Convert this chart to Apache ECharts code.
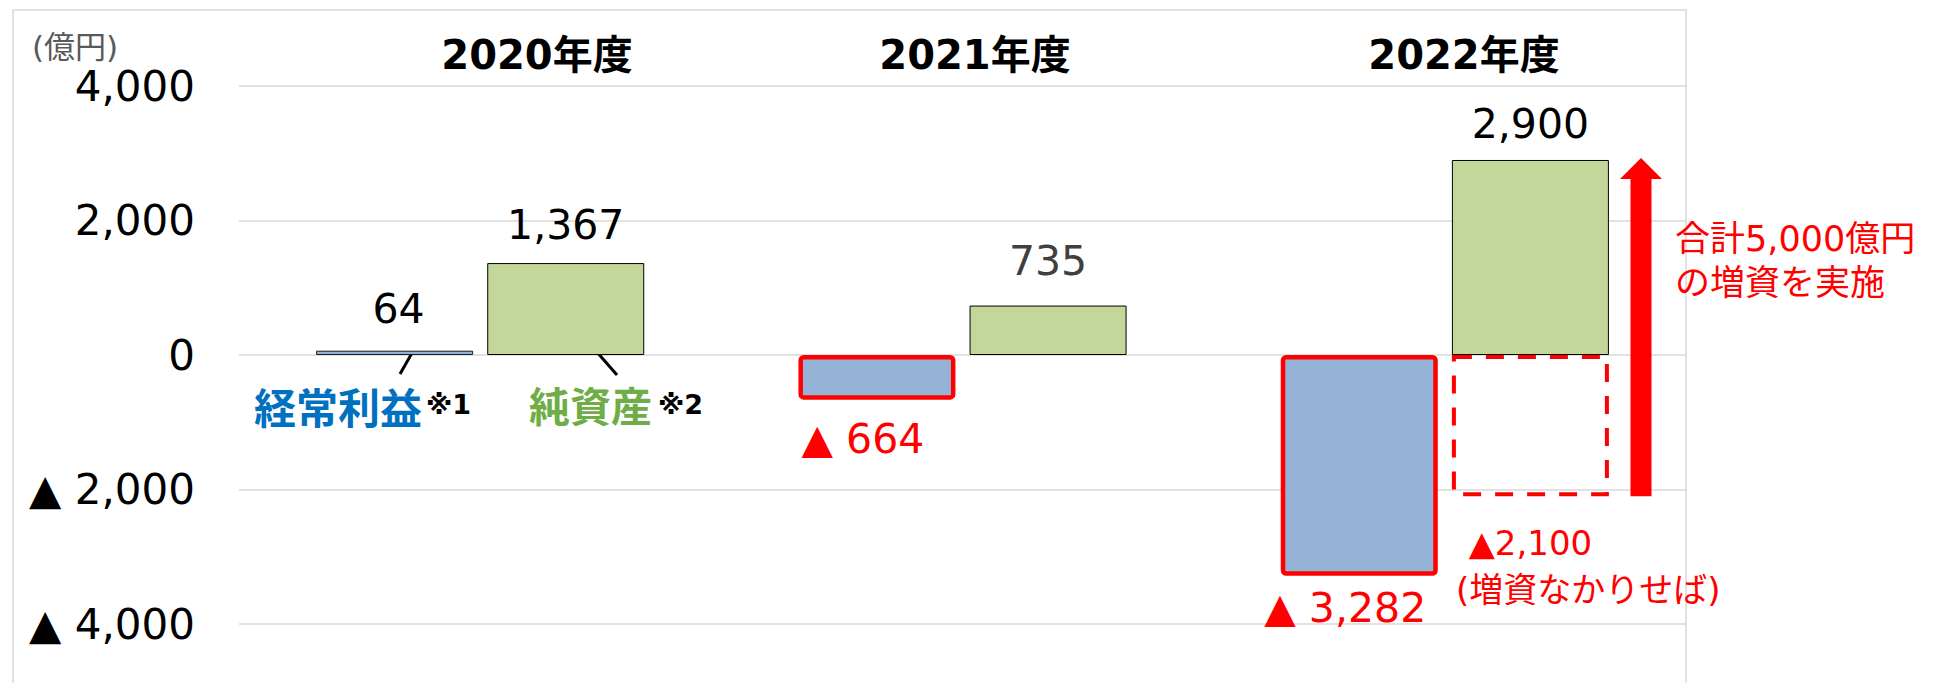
<!DOCTYPE html>
<html>
<head>
<meta charset="utf-8">
<script src="https://cdn.jsdelivr.net/npm/echarts@6/dist/echarts.min.js"></script>
<style>
html, body { margin: 0; padding: 0; background: #fff; }
#chart { width: 1933px; height: 683px; }
</style>
</head>
<body>
<div id="chart"></div>
<script>
// 値（億円）
var categories = ['2020年度', '2021年度', '2022年度'];
var ordinaryProfit = [64, -664, -3282];      // 経常利益
var netAssets = [1367, 735, 2900];           // 純資産
var withoutIncrease = [null, null, -2100];   // 増資なかりせば
var yMin = -4000, yMax = 4000, yStep = 2000;

var FONT = "DejaVu Sans, Noto Sans CJK JP, sans-serif";
var RED = '#FF0000';

function fmt(v) {
    return String(Math.abs(v)).replace(/\B(?=(\d{3})+(?!\d))/g, ',');
}

var chart = echarts.init(document.getElementById('chart'), null, { renderer: 'svg' });

var profitData = ordinaryProfit.map(function (v) {
    var neg = v < 0;
    return {
        value: v,
        itemStyle: neg ? { borderColor: RED, borderWidth: 4.5, borderRadius: 3 }
                       : { borderColor: '#1a1a1a', borderWidth: 1 },
        label: { color: neg ? RED : '#000', distance: neg ? (v < -2000 ? 12 : 19) : 21, offset: neg ? [-14, 0] : [4, 0] }
    };
});
var assetColors = ['#000', '#404040', '#000'];
var assetGap = [18, 24, 15];
var assetData = netAssets.map(function (v, i) {
    return { value: v, label: { color: assetColors[i], distance: assetGap[i] } };
});

chart.setOption({
    animation: false,
    grid: { left: 239, right: 247, top: 86, bottom: 59, containLabel: false },
    xAxis: { type: 'category', data: categories, show: false },
    yAxis: {
        type: 'value', min: yMin, max: yMax, interval: yStep,
        axisLine: { show: false }, axisTick: { show: false },
        splitLine: { lineStyle: { color: '#D9D9D9', width: 1.5 } },
        axisLabel: {
            fontSize: 42, color: '#000', fontFamily: FONT, margin: 44,
            formatter: function (v) { return v < 0 ? '▲ ' + fmt(v) : fmt(v); }
        }
    },
    series: [
        {
            name: '経常利益', type: 'bar', barWidth: 157, barGap: '9%',
            data: profitData,
            itemStyle: { color: '#95B3D7' },
            label: {
                show: true, position: 'outside', fontSize: 41, fontFamily: FONT,
                formatter: function (p) { return p.value < 0 ? '▲ ' + fmt(p.value) : fmt(p.value); }
            }
        },
        {
            name: '純資産', type: 'bar', stack: 'na', barWidth: 157, barGap: '9%',
            data: assetData,
            itemStyle: { color: '#C4D79B', borderColor: '#000', borderWidth: 1 },
            label: {
                show: true, position: 'outside', fontSize: 41, fontFamily: FONT,
                formatter: function (p) { return fmt(p.value); }
            }
        },
        {
            name: '増資なかりせば', type: 'bar', stack: 'na', barWidth: 157, barGap: '9%',
            data: withoutIncrease.map(function (v) { return v == null ? '-' : v; }),
            itemStyle: { color: 'rgba(0,0,0,0)', borderColor: RED, borderWidth: 4, borderType: [18, 14] },
            label: {
                show: true, position: 'outside', distance: 30, fontSize: 34, color: RED, fontFamily: FONT,
                formatter: function (p) { return '▲' + fmt(p.value); }
            }
        }
    ]
});

// 注記・矢印
var arrowTop = chart.convertToPixel({ gridIndex: 0 }, [2, netAssets[2]])[1] - 2;
var arrowBottom = chart.convertToPixel({ gridIndex: 0 }, [2, withoutIncrease[2]])[1];
var ax = 1641;

function txt(x, y, s, size, color, weight, align) {
    return {
        type: 'text', x: x, y: y, silent: true,
        style: {
            text: s, fill: color, textAlign: align || 'left', textVerticalAlign: 'middle',
            fontFamily: FONT, fontSize: size, fontWeight: weight || 'normal'
        }
    };
}

var titleX = [537, 975, 1464];
var graphics = [
    { type: 'rect', shape: { x: 13, y: 10, width: 1673, height: 700 }, style: { fill: 'none', stroke: '#D9D9D9', lineWidth: 1.5 }, silent: true },
    txt(32, 47, '(億円)', 31, '#595959'),
    txt(254, 409, '経常利益', 42, '#0070C0', 'bold'),
    txt(426, 404, '※1', 27, '#000', 'bold'),
    txt(529, 408, '純資産', 41, '#70AD47', 'bold'),
    txt(658, 404, '※2', 27, '#000', 'bold'),
    { type: 'line', shape: { x1: 412, y1: 353, x2: 400, y2: 374 }, style: { stroke: '#000', lineWidth: 3 }, silent: true },
    { type: 'line', shape: { x1: 589, y1: 343, x2: 617, y2: 375 }, style: { stroke: '#000', lineWidth: 3 }, silent: true },
    txt(1456, 590, '(増資なかりせば)', 34, RED),
    txt(1675, 239, '合計5,000億円', 35, RED),
    txt(1675, 283, 'の増資を実施', 35, RED),
    {
        type: 'polygon', silent: true,
        shape: { points: [
            [ax, arrowTop], [ax - 21, arrowTop + 21], [ax - 10.5, arrowTop + 21], [ax - 10.5, arrowBottom],
            [ax + 10.5, arrowBottom], [ax + 10.5, arrowTop + 21], [ax + 21, arrowTop + 21]
        ] },
        style: { fill: RED }
    }
];
categories.forEach(function (c, i) {
    graphics.push(txt(titleX[i], 55, c, 40, '#000', 'bold', 'center'));
});
chart.setOption({ graphic: graphics });
</script>
</body>
</html>
